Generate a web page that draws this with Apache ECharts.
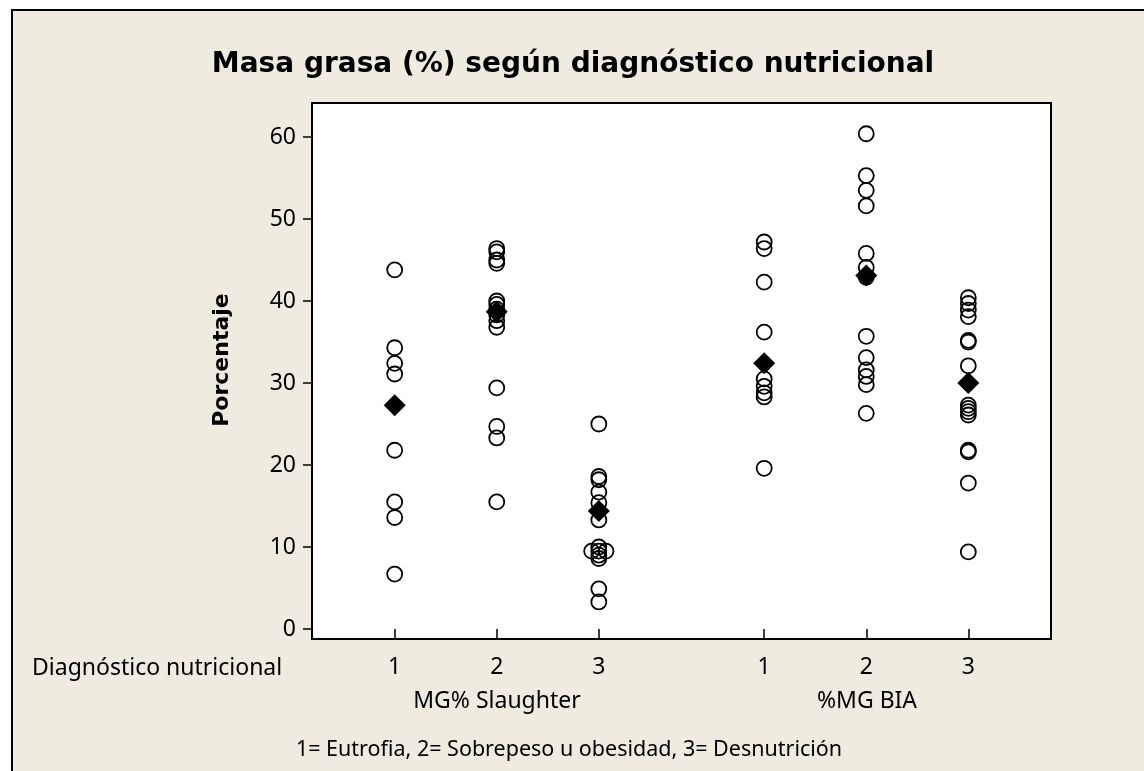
<!DOCTYPE html>
<html>
<head>
<meta charset="utf-8">
<script src="https://cdn.jsdelivr.net/npm/echarts@6/dist/echarts.min.js"></script>
<style>
body { margin: 0; background: #fff; overflow: hidden; }
#frame { position: absolute; left: 11px; top: 9px; width: 1200px; height: 800px; border: 2px solid #000; background: #efebe1; }
#chart { position: absolute; left: 0; top: 0; width: 1144px; height: 771px; }
</style>
</head>
<body>
<div id="frame"></div>
<div id="chart"></div>
<script>
// x positions of the six columns (two groups of three)
const xPos = [1, 2, 3, 4.62, 5.62, 6.62]
const xTickLabels = ['1', '2', '3', '1', '2', '3']
const yTicks = [0, 10, 20, 30, 40, 50, 60]

// MG% Slaughter
const slaughter1 = [43.8, 34.3, 32.4, 31.1, 21.8, 15.5, 13.6, 6.7]
const slaughter2 = [46.4, 46.0, 45.0, 44.6, 40.0, 39.6, 39.0, 38.3, 37.6, 36.8, 29.4, 24.7, 23.3, 15.5]
const slaughter3 = [25.0, 18.6, 18.2, 16.7, 15.4, 13.3, 10.0, 9.5, 9.0, 8.6, 4.9, 3.3]
// two points drawn side by side in column 3 (x, y)
const slaughter3Side = [[2.93, 9.5], [3.07, 9.5]]
// %MG BIA
const bia1 = [47.2, 46.4, 42.3, 36.2, 30.5, 29.6, 28.8, 28.3, 19.6]
const bia2 = [60.4, 55.3, 53.5, 51.6, 45.8, 44.1, 42.9, 35.7, 33.1, 31.6, 30.8, 29.8, 26.3]
const bia3 = [40.4, 39.7, 38.9, 38.1, 35.2, 35.0, 32.1, 27.3, 26.9, 26.5, 26.1, 21.8, 21.6, 17.8, 9.4]
// means (filled diamonds)
const means = [27.3, 38.7, 14.4, 32.4, 43.1, 30.0]

const columns = [slaughter1, slaughter2, slaughter3, bia1, bia2, bia3]
const points = []
columns.forEach((col, i) => {
  col.forEach(v => points.push([xPos[i], v]))
})
slaughter3Side.forEach(p => points.push(p))
const meanPoints = means.map((v, i) => [xPos[i], v])

const font = '"Noto Sans", "Liberation Sans", sans-serif'
const chart = echarts.init(document.getElementById('chart'))
const option = {
  backgroundColor: 'transparent',
  animation: false,
  grid: {
    left: 312,
    right: 93,
    top: 103,
    bottom: 132,
    show: true,
    backgroundColor: '#fff',
    borderColor: '#000',
    borderWidth: 2
  },
  xAxis: {
    type: 'value',
    min: 0.19,
    max: 7.43,
    axisLine: { show: false },
    splitLine: { show: false },
    axisTick: {
      show: true,
      length: 9,
      customValues: xPos,
      lineStyle: { color: '#000', width: 1.5 }
    },
    axisLabel: {
      customValues: xPos,
      margin: 17,
      color: '#000',
      fontSize: 23,
      fontFamily: font,
      formatter: (v) => {
        const i = xPos.findIndex(p => Math.abs(p - v) < 0.001)
        return i >= 0 ? xTickLabels[i] : ''
      }
    }
  },
  yAxis: {
    type: 'value',
    min: -1.22,
    max: 64.15,
    axisLine: { show: false },
    splitLine: { show: false },
    axisTick: {
      show: true,
      length: 9,
      customValues: yTicks,
      lineStyle: { color: '#000', width: 1.5 }
    },
    axisLabel: {
      customValues: yTicks,
      margin: 16,
      color: '#000',
      fontSize: 23,
      fontFamily: font
    }
  },
  graphic: [
    {
      type: 'text', x: 573, y: 65,
      style: { text: 'Masa grasa (%) según diagnóstico nutricional', align: 'center', verticalAlign: 'middle', fill: '#000', font: 'bold 28px "DejaVu Sans", sans-serif' }
    },
    {
      type: 'text', x: 222, y: 360, rotation: Math.PI / 2,
      style: { text: 'Porcentaje', align: 'center', verticalAlign: 'middle', fill: '#000', font: 'bold 22px "DejaVu Sans", sans-serif' }
    },
    {
      type: 'text', x: 32, y: 668,
      style: { text: 'Diagnóstico nutricional', align: 'left', verticalAlign: 'middle', fill: '#000', font: '23px ' + font }
    },
    {
      type: 'text', x: 497, y: 701,
      style: { text: 'MG% Slaughter', align: 'center', verticalAlign: 'middle', fill: '#000', font: '23px ' + font }
    },
    {
      type: 'text', x: 867, y: 701,
      style: { text: '%MG BIA', align: 'center', verticalAlign: 'middle', fill: '#000', font: '23px ' + font }
    },
    {
      type: 'text', x: 569, y: 750,
      style: { text: '1= Eutrofia, 2= Sobrepeso u obesidad, 3= Desnutrición', align: 'center', verticalAlign: 'middle', fill: '#000', font: '21.5px ' + font }
    }
  ],
  series: [
    {
      type: 'scatter',
      data: points,
      symbol: 'circle',
      symbolSize: 15,
      itemStyle: { color: 'rgba(0,0,0,0)', borderColor: '#000', borderWidth: 1.8, opacity: 1 },
      emphasis: { disabled: true },
      z: 2
    },
    {
      type: 'scatter',
      data: meanPoints,
      symbol: 'diamond',
      symbolSize: 22,
      itemStyle: { color: '#000', opacity: 1 },
      emphasis: { disabled: true },
      z: 3
    }
  ]
}
chart.setOption(option)
</script>
</body>
</html>
